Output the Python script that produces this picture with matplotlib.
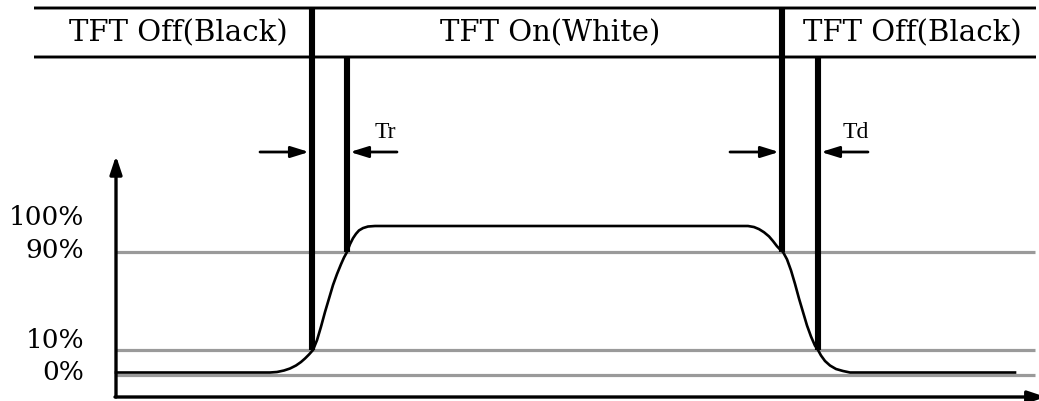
import numpy as np
import matplotlib
matplotlib.use('Agg')
import matplotlib.pyplot as plt

# ---------------- data ----------------
phase_labels = ['TFT Off(Black)', 'TFT On(White)', 'TFT Off(Black)']
phase_bounds = [34, 312, 783, 1036]          # time units (arbitrary)

level_values = [0, 10, 90, 100]              # luminance %
level_labels = ['0%', '10%', '90%', '100%']
level_heights = [0, 25, 123, 149]            # schematic (non-linear) drawing height of each level
guide_levels = [0, 10, 90]

# optical response (time units, luminance %)
curve_time = [116, 270, 277, 284, 290, 296, 301, 305, 309, 313, 317, 321, 325, 329, 333, 337,
              341, 344, 347, 350, 353, 356, 359, 363, 368, 375,
              748, 754, 759, 764, 769, 773, 777, 780, 783, 787, 791, 795, 799, 803, 807, 811,
              815, 818, 821, 825, 830, 836, 843, 850, 1015]
curve_pct = [1, 1, 1.2, 1.8, 2.6, 3.8, 5.2, 6.6, 8.2, 10, 18, 29, 41, 52, 63, 72,
             80, 85.5, 90, 93, 95.3, 97, 98.3, 99.2, 99.8, 100,
             100, 99.6, 98.8, 97.6, 96, 94.2, 92.2, 91, 90, 84, 75, 64, 52, 41, 30, 21,
             13.5, 10, 7.8, 5.6, 3.8, 2.4, 1.6, 1, 1]

# transition edges: (time, luminance level reached, header line it starts from)
edges = [(312, 10, 'top'), (347, 90, 'mid'), (782, 90, 'top'), (818, 10, 'mid')]
transition_labels = ['Tr', 'Td']
transition_spans = [(312, 347), (782, 818)]

axis_origin = 116
axis_end = 1046
y_axis_top = 127

# ---------------- scale ----------------
lv = np.array(level_values, float)
lh = np.array(level_heights, float)
lo_s = (lh[1] - lh[0]) / (lv[1] - lv[0])
hi_s = (lh[-1] - lh[-2]) / (lv[-1] - lv[-2])


def fwd(p):
    p = np.asarray(p, float)
    out = np.interp(p, lv, lh)
    out = np.where(p < lv[0], lh[0] + (p - lv[0]) * lo_s, out)
    out = np.where(p > lv[-1], lh[-1] + (p - lv[-1]) * hi_s, out)
    return out


def inv(u):
    u = np.asarray(u, float)
    out = np.interp(u, lh, lv)
    out = np.where(u < lh[0], lv[0] + (u - lh[0]) / lo_s, out)
    out = np.where(u > lh[-1], lv[-1] + (u - lh[-1]) / hi_s, out)
    return out


W, H = 1039, 402
fig = plt.figure(figsize=(W / 100, H / 100), dpi=100)
ax = fig.add_axes([0, 0, 1, 1])
ax.set_yscale('function', functions=(fwd, inv))
ax.set_xlim(0, W)
ax.set_ylim(float(inv(-26)), float(inv(376)))
ax.axis('off')

SERIF_WIDE = ['DejaVu Serif']
SERIF = ['Liberation Serif', 'DejaVu Serif']

hdr_top = 1 - 9 / H
hdr_mid = 1 - 58 / H
hdr_txt = 1 - 33 / H
axis_y = 4 / H
mixed = ('data', 'axes fraction')

# header
for fr in (hdr_top, hdr_mid):
    ax.annotate('', xy=(phase_bounds[-1], fr), xytext=(phase_bounds[0], fr),
                xycoords=mixed, textcoords=mixed,
                arrowprops=dict(arrowstyle='-', lw=2.1, color='black', shrinkA=0, shrinkB=0,
                                capstyle='butt'))
for i, lab in enumerate(phase_labels):
    cx = (phase_bounds[i] + phase_bounds[i + 1]) / 2
    ax.text(cx + (5 if i == 0 else 3), hdr_txt, lab, transform=ax.get_xaxis_transform(),
            ha='center', va='center', fontsize=21, family=SERIF_WIDE, color='black')

# guide lines
for g in guide_levels:
    ax.plot([axis_origin, 1035], [g, g], color='#9a9a9a', lw=2.3, solid_capstyle='butt', zorder=1)

# response curve
ax.plot(curve_time, curve_pct, color='black', lw=1.9, zorder=3, solid_joinstyle='round')

# transition edges
for t, lvl, src in edges:
    fr = hdr_top if src == 'top' else hdr_mid
    ax.annotate('', xy=(t, lvl), xytext=(t, fr),
                xycoords='data', textcoords=mixed,
                arrowprops=dict(arrowstyle='-', lw=4.4, color='black', shrinkA=0, shrinkB=0,
                                capstyle='butt'),
                zorder=4)

# Tr / Td arrows and labels
arr_y = 1 - 153 / H
lab_y = 1 - 133 / H
aprops = dict(arrowstyle='-|>,head_length=0.9,head_width=0.28', mutation_scale=12,
              lw=2.0, color='black', shrinkA=0, shrinkB=0)
for lab, (t0, t1) in zip(transition_labels, transition_spans):
    ax.annotate('', xy=(t0 - 3, arr_y), xytext=(t0 - 52, arr_y),
                xycoords=mixed, textcoords=mixed, arrowprops=aprops)
    ax.annotate('', xy=(t1 + 3, arr_y), xytext=(t1 + 50, arr_y),
                xycoords=mixed, textcoords=mixed, arrowprops=aprops)
    ax.text(t1 + 38, lab_y, lab, transform=ax.get_xaxis_transform(),
            ha='center', va='center', fontsize=17, family=SERIF, color='black')

# axes with arrows
ax.annotate('', xy=(axis_origin, y_axis_top), xytext=(axis_origin, axis_y),
            xycoords='data', textcoords=mixed,
            arrowprops=dict(arrowstyle='-|>,head_length=0.9,head_width=0.3', mutation_scale=12,
                            lw=2.4, color='black', shrinkA=0, shrinkB=0))
ax.annotate('', xy=(axis_end, axis_y), xytext=(axis_origin - 1, axis_y),
            xycoords=mixed, textcoords=mixed,
            arrowprops=dict(arrowstyle='-|>,head_length=0.9,head_width=0.3', mutation_scale=12,
                            lw=2.4, color='black', shrinkA=0, shrinkB=0))

# level labels
label_offsets = [3, 10, 2, 9]   # px upward
for v, lab, off in zip(level_values, level_labels, label_offsets):
    ax.annotate(lab, xy=(84, v), xytext=(0, off * 0.72), textcoords='offset points',
                ha='right', va='center', fontsize=19, family=SERIF_WIDE, color='black')

fig.savefig('out.png', dpi=100)
